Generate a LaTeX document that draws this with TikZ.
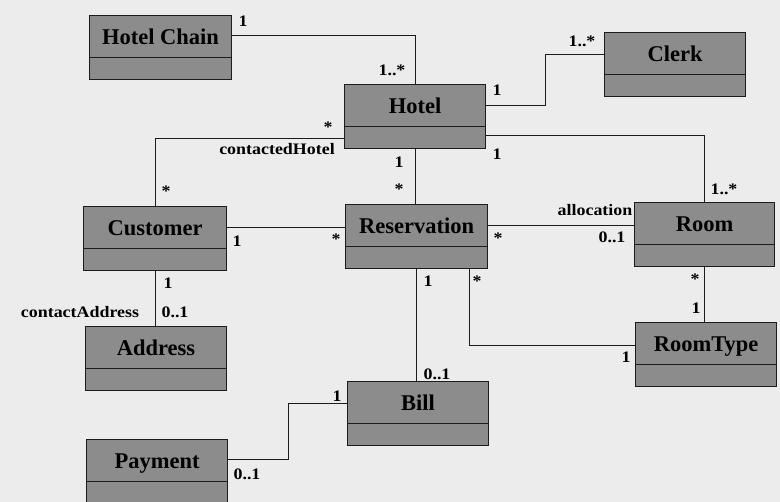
\documentclass[tikz,border=0pt]{standalone}
\usepackage{fontspec}
\setmainfont{Liberation Serif}
\newfontfamily\multfont[FakeStretch=1.12]{Liberation Serif}
\usetikzlibrary{calc}

\definecolor{classfill}{RGB}{140,140,140}
\definecolor{paper}{RGB}{236,236,236}
\definecolor{ink}{RGB}{28,28,28}

\tikzset{
  classbox/.style={draw=ink, line width=1.1pt, fill=classfill,
    minimum height=64pt, anchor=north west, inner sep=0pt},
  classname/.style={font=\fontsize{22.5}{24}\selectfont\bfseries,
    text=black, inner sep=0pt, anchor=base},
  assoc/.style={draw=ink, line width=0.9pt},
  mult/.style={font=\multfont\fontsize{16}{18}\selectfont\bfseries,
    text=black, inner sep=0pt, anchor=base},
}

% class box: id, left, top, width, class name
\newcommand\umlclass[5]{%
  \node[classbox, minimum width=#4pt] (#1) at (#2,#3) {};
  \node[classname] (#1-name) at ($(#1.north)+(0,29.5)$) {#5};
  \draw[ink, line width=0.9pt] ($(#1.north west)+(0,42.5)$) -- ($(#1.north east)+(0,42.5)$);
}

\begin{document}
\begin{tikzpicture}[x=1pt, y=-1pt]
  \useasboundingbox (0,0) rectangle (780,502);
  \fill[paper] (0,0) rectangle (780,502);

  % classes
  \umlclass{hc}{89}{15}{142}{Hotel Chain}
  \umlclass{hotel}{344}{84}{141}{Hotel}
  \umlclass{clerk}{604}{32}{141}{Clerk}
  \umlclass{customer}{83}{206}{143}{Customer}
  \umlclass{reservation}{345}{204}{142}{Reservation}
  \umlclass{room}{634}{202}{140}{Room}
  \umlclass{address}{85}{326}{141}{Address}
  \umlclass{roomtype}{635}{322}{141}{RoomType}
  \umlclass{bill}{347}{381}{141}{Bill}
  \umlclass{payment}{86}{439}{141}{Payment}

  % associations
  \draw[assoc] ($(hc.north east)+(0,20)$) -| (hotel.north);
  \draw[assoc] ($(hotel.north east)+(0,21)$) -- ++(59,0) |- ($(clerk.north west)+(0,22)$);
  \draw[assoc] ($(hotel.north east)+(0,51)$) -| (room.north);
  \draw[assoc] ($(hotel.north west)+(0,54)$) -| (customer.north);
  \draw[assoc] (hotel.south) -- (hotel.south |- reservation.north);
  \draw[assoc] ($(customer.north east)+(0,21)$) coordinate (cr) -- (cr -| reservation.west);
  \draw[assoc] ($(reservation.north east)+(0,21)$) coordinate (rr) -- (rr -| room.west);
  \draw[assoc] (customer.south) -- (customer.south |- address.north);
  \draw[assoc] (reservation.south) -- (reservation.south |- bill.north);
  \draw[assoc] ($(reservation.south west)+(124,0)$) |- ($(roomtype.north west)+(0,23)$);
  \draw[assoc] (room.south) -- (room.south |- roomtype.north);
  \draw[assoc] ($(payment.north east)+(0,20)$) -- ++(60,0) |- ($(bill.north west)+(0,22)$);

  % multiplicities and role names
  \node[mult] (m1) at (243,27) {1};
  \node[mult] (m2) at (392,76) {1..*};
  \node[mult] (m3) at (497,96) {1};
  \node[mult] (m4) at (582,47) {1..*};
  \node[mult] (m5) at (497,160) {1};
  \node[mult] (m6) at (724,195) {1..*};
  \node[mult] (m7) at (328,133) {*};
  \node[mult] (r1) at (277,155) {contactedHotel};
  \node[mult] (m8) at (166,197) {*};
  \node[mult] (m9) at (399,168) {1};
  \node[mult] (m10) at (399,195) {*};
  \node[mult] (m11) at (237,247) {1};
  \node[mult] (m12) at (336,245) {*};
  \node[mult] (r2) at (595,216) {allocation};
  \node[mult] (m13) at (498,244) {*};
  \node[mult] (m14) at (612,243) {0..1};
  \node[mult] (m15) at (168,289) {1};
  \node[mult] (r3) at (80,318) {contactAddress};
  \node[mult] (m16) at (175,318) {0..1};
  \node[mult] (m17) at (428,287) {1};
  \node[mult] (m18) at (477,287) {*};
  \node[mult] (m19) at (695,285) {*};
  \node[mult] (m20) at (696,314) {1};
  \node[mult] (m21) at (626,363) {1};
  \node[mult] (m22) at (437,380) {0..1};
  \node[mult] (m23) at (337,402) {1};
  \node[mult] (m24) at (247,480) {0..1};
\end{tikzpicture}
\end{document}
